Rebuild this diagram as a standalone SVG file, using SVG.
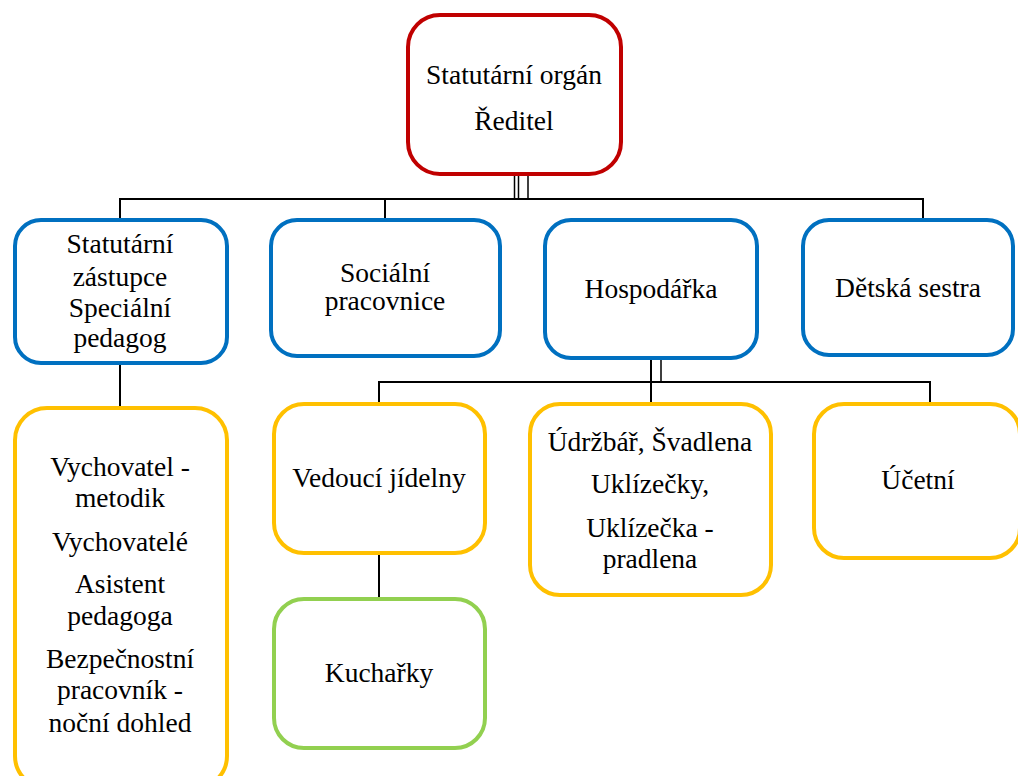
<svg xmlns="http://www.w3.org/2000/svg" width="1018" height="776" viewBox="0 0 1018 776">
<style>
.box{fill:#fff;stroke-width:4}
.red{stroke:#C00000}
.blue{stroke:#0070C0}
.yel{stroke:#FFC000}
.grn{stroke:#92D050}
.t{font-family:'Liberation Serif','Noto Serif','Nimbus Roman','Nimbus Roman No9 L','FreeSerif','Times',serif;font-size:27.5px;fill:#000;text-anchor:middle}
.c{stroke:#000;stroke-width:2;fill:none}
.c1{stroke:#000;stroke-width:1.5;fill:none}
</style>
<rect width="1018" height="776" fill="#fff"/>
<g id="connectors">
<line class="c1" x1="514.5" y1="175" x2="514.5" y2="199"/>
<line class="c1" x1="518.5" y1="175" x2="518.5" y2="199"/>
<line class="c1" x1="528" y1="175" x2="528" y2="199"/>
<polyline class="c" points="120,220 120,199 923,199 923,220"/>
<line class="c" x1="385" y1="199" x2="385" y2="220"/>
<line class="c" x1="120" y1="363" x2="120" y2="408"/>
<polyline class="c" points="379,404 379,382 930,382 930,404"/>
<line class="c" x1="651" y1="358" x2="651" y2="404"/>
<polyline class="c1" points="661,358 661,382 651,382"/>
<line class="c" x1="379" y1="553" x2="379" y2="599"/>
</g>
<g id="n-reditel">
<rect class="box red" x="408" y="15" width="213" height="159" rx="32"/>
<text class="t" x="514" y="84">Statutární orgán</text>
<text class="t" x="514" y="130">Ředitel</text>
</g>
<g id="n-zastupce">
<rect class="box blue" x="15" y="220" width="212" height="143" rx="26"/>
<text class="t" x="120" y="253">Statutární</text>
<text class="t" x="120" y="286">zástupce</text>
<text class="t" x="120" y="317">Speciální</text>
<text class="t" x="120" y="347">pedagog</text>
</g>
<g id="n-socialni">
<rect class="box blue" x="271" y="220" width="229" height="136" rx="26"/>
<text class="t" x="385" y="282">Sociální</text>
<text class="t" x="385" y="310">pracovnice</text>
</g>
<g id="n-hospodarka">
<rect class="box blue" x="545" y="220" width="212" height="138" rx="26"/>
<text class="t" x="651" y="298">Hospodářka</text>
</g>
<g id="n-sestra">
<rect class="box blue" x="803" y="220" width="210" height="135" rx="26"/>
<text class="t" x="908" y="297">Dětská sestra</text>
</g>
<g id="n-vychovatel">
<rect class="box yel" x="15" y="408" width="212" height="380" rx="32"/>
<text class="t" x="120" y="476">Vychovatel -</text>
<text class="t" x="120" y="507">metodik</text>
<text class="t" x="120" y="551">Vychovatelé</text>
<text class="t" x="120" y="593">Asistent</text>
<text class="t" x="120" y="625">pedagoga</text>
<text class="t" x="120" y="668">Bezpečnostní</text>
<text class="t" x="120" y="699">pracovník -</text>
<text class="t" x="120" y="732">noční dohled</text>
</g>
<g id="n-vedouci">
<rect class="box yel" x="274" y="404" width="211" height="149" rx="30"/>
<text class="t" x="379" y="487">Vedoucí jídelny</text>
</g>
<g id="n-kucharky">
<rect class="box grn" x="274" y="599" width="211" height="149" rx="30"/>
<text class="t" x="379" y="682">Kuchařky</text>
</g>
<g id="n-udrzbar">
<rect class="box yel" x="530" y="404" width="241" height="191" rx="30"/>
<text class="t" x="650" y="451">Údržbář, Švadlena</text>
<text class="t" x="650" y="493">Uklízečky,</text>
<text class="t" x="650" y="537">Uklízečka -</text>
<text class="t" x="650" y="568">pradlena</text>
</g>
<g id="n-ucetni">
<rect class="box yel" x="814" y="404" width="206" height="154" rx="30"/>
<text class="t" x="918" y="489">Účetní</text>
</g>
</svg>
